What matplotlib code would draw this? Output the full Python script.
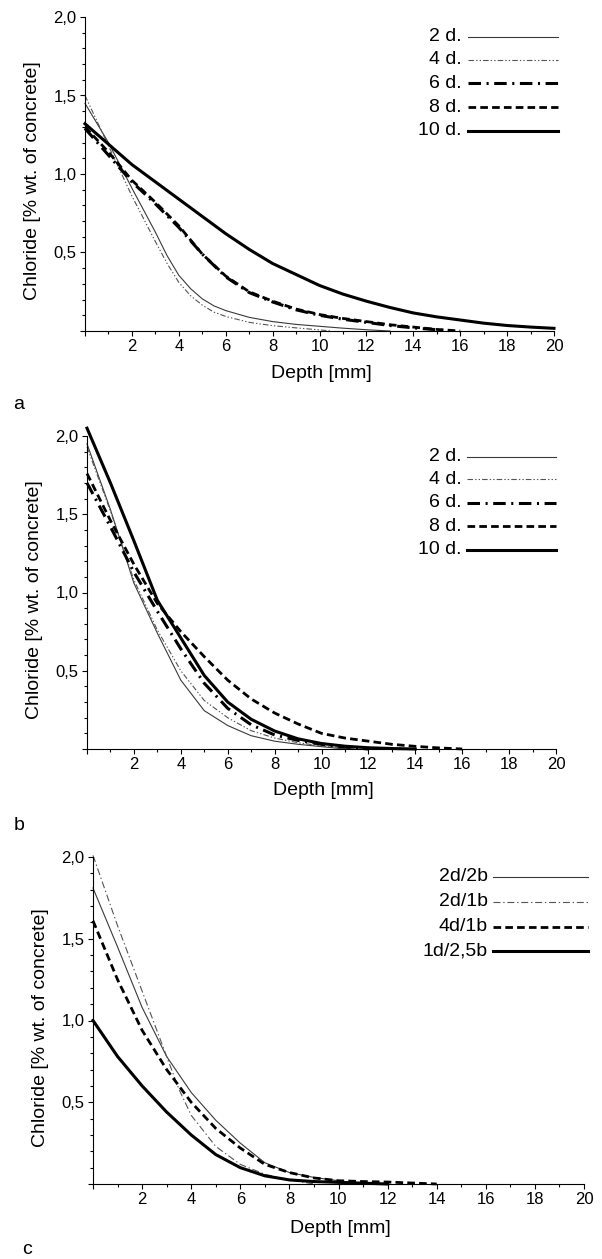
import matplotlib
matplotlib.use('Agg')
import matplotlib.pyplot as plt
from matplotlib.lines import Line2D
from matplotlib.ticker import MultipleLocator, FuncFormatter

plt.rcParams['font.family'] = ['Liberation Sans', 'DejaVu Sans']
plt.rcParams['lines.scale_dashes'] = False

W, H = 602, 1259

# ---- panel a ----
a_2d_x = [0, 1, 2, 3, 3.5, 4, 4.5, 5, 5.5, 6, 7, 8, 9, 10, 11, 12, 13]
a_2d_y = [1.45, 1.20, 0.91, 0.63, 0.48, 0.355, 0.27, 0.205, 0.16, 0.13, 0.087, 0.06, 0.042, 0.03, 0.018, 0.008, 0.0]
a_4d_x = [0, 1, 2, 3, 3.5, 4, 4.5, 5, 5.5, 6, 7, 8, 9, 10, 10.5]
a_4d_y = [1.50, 1.18, 0.86, 0.57, 0.43, 0.31, 0.225, 0.165, 0.12, 0.093, 0.055, 0.034, 0.02, 0.007, 0.0]
a_6d_x = [0, 1, 2, 3, 4, 5, 6, 7, 8, 9, 10, 11, 12, 13, 14, 15, 15.5]
a_6d_y = [1.29, 1.12, 0.95, 0.81, 0.66, 0.49, 0.345, 0.245, 0.185, 0.135, 0.10, 0.075, 0.055, 0.035, 0.02, 0.008, 0.0]
a_8d_x = [0, 1, 2, 3, 4, 5, 6, 7, 8, 9, 10, 11, 12, 13, 14, 15, 16]
a_8d_y = [1.30, 1.14, 0.96, 0.82, 0.67, 0.49, 0.35, 0.25, 0.19, 0.14, 0.105, 0.08, 0.06, 0.04, 0.025, 0.01, 0.0]
a_10d_x = list(range(21))
a_10d_y = [1.32, 1.19, 1.06, 0.95, 0.84, 0.73, 0.62, 0.52, 0.43, 0.36, 0.29, 0.235, 0.19, 0.15,
           0.115, 0.09, 0.07, 0.05, 0.035, 0.025, 0.017]

# ---- panel b ----
b_2d_x = [0, 1, 2, 3, 4, 5, 6, 7, 8, 9, 10, 11]
b_2d_y = [1.95, 1.53, 1.06, 0.74, 0.44, 0.245, 0.15, 0.085, 0.05, 0.03, 0.015, 0.0]
b_4d_x = [0, 1, 2, 3, 4, 5, 6, 7, 8, 9, 10, 11, 11.5]
b_4d_y = [1.93, 1.52, 1.08, 0.76, 0.50, 0.31, 0.20, 0.117, 0.07, 0.04, 0.02, 0.006, 0.0]
b_6d_x = [0, 1, 2, 3, 4, 5, 6, 7, 8, 9, 10, 11, 12]
b_6d_y = [1.70, 1.42, 1.13, 0.88, 0.64, 0.42, 0.26, 0.155, 0.09, 0.055, 0.03, 0.012, 0.0]
b_8d_x = [0, 1, 2, 3, 4, 5, 6, 7, 8, 9, 10, 11, 12, 13, 14, 15, 16]
b_8d_y = [1.76, 1.46, 1.18, 0.93, 0.75, 0.59, 0.44, 0.32, 0.23, 0.16, 0.10, 0.07, 0.05, 0.03, 0.017, 0.007, 0.0]
b_10d_x = [0, 1, 2, 3, 4, 5, 6, 7, 8, 9, 10, 11, 12, 13, 14]
b_10d_y = [2.05, 1.70, 1.33, 0.95, 0.71, 0.47, 0.30, 0.19, 0.115, 0.065, 0.035, 0.018, 0.008, 0.003, 0.0]

# ---- panel c ----
c_22_x = [0, 1, 2, 3, 4, 5, 6, 7, 8, 9, 10, 11]
c_22_y = [1.81, 1.45, 1.08, 0.78, 0.56, 0.39, 0.25, 0.13, 0.07, 0.04, 0.02, 0.0]
c_21_x = [0, 1, 2, 3, 3.5, 4, 5, 6, 7, 8, 9]
c_21_y = [2.01, 1.58, 1.18, 0.78, 0.58, 0.42, 0.23, 0.12, 0.06, 0.025, 0.0]
c_41_x = [0, 1, 2, 3, 4, 5, 6, 7, 8, 9, 10, 11, 12, 13, 14]
c_41_y = [1.61, 1.25, 0.94, 0.70, 0.50, 0.34, 0.22, 0.12, 0.07, 0.037, 0.02, 0.015, 0.012, 0.006, 0.0]
c_125_x = [0, 1, 2, 3, 4, 5, 6, 7, 8, 9, 10, 11, 12]
c_125_y = [1.00, 0.78, 0.60, 0.44, 0.30, 0.18, 0.10, 0.05, 0.025, 0.015, 0.01, 0.005, 0.0]

labels_ab = ['2 d.', '4 d.', '6 d.', '8 d.', '10 d.']
labels_c = ['2d/2b', '2d/1b', '4d/1b', '1d/2,5b']

STYLES = {
    'thin': dict(color='#3a3a3a', linewidth=0.8, linestyle='-'),
    'thin_dd': dict(color='#555555', linewidth=0.8, linestyle=(0, (4, 1.5, 1, 1.5, 1, 1.5))),
    'thin_d': dict(color='#555555', linewidth=0.8, linestyle=(0, (5, 2, 1, 2))),
    'dashdot': dict(color='black', linewidth=2.2, linestyle=(0, (9, 4, 1.5, 4))),
    'dash': dict(color='black', linewidth=2.0, linestyle=(0, (5.5, 3))),
    'solid': dict(color='black', linewidth=2.2, linestyle='-'),
}
styles_ab = ['thin', 'thin_dd', 'dashdot', 'dash', 'solid']
styles_c = ['thin', 'thin_d', 'dash', 'solid']


def px_fig(x, y):
    return x / W, 1 - y / H


def make_axes(fig, left, top, right, bottom):
    ax = fig.add_axes([left / W, 1 - bottom / H, (right - left) / W, (bottom - top) / H])
    ax.set_xlim(0, 20)
    ax.set_ylim(0, 2.0)
    for s in ['top', 'right']:
        ax.spines[s].set_visible(False)
    for s in ['left', 'bottom']:
        ax.spines[s].set_linewidth(0.8)
    ax.xaxis.set_major_locator(MultipleLocator(2))
    ax.xaxis.set_minor_locator(MultipleLocator(1))
    ax.yaxis.set_major_locator(MultipleLocator(0.5))
    ax.yaxis.set_minor_locator(MultipleLocator(0.1))
    ax.xaxis.set_major_formatter(FuncFormatter(lambda v, p: '' if abs(v) < 1e-9 else f'{v:g}'))
    ax.yaxis.set_major_formatter(FuncFormatter(
        lambda v, p: '' if abs(v) < 1e-9 else f'{v:.1f}'.replace('.', ',')))
    ax.tick_params(which='major', length=3.5, width=0.8, direction='out', labelsize=12, pad=2.5)
    ax.tick_params(which='minor', length=2.2, width=0.8, direction='out')
    return ax


def draw_legend(fig, labels, styles, rows, text_right, x0, x1):
    for lab, st, y in zip(labels, styles, rows):
        fx0, fy = px_fig(x0, y)
        fx1, _ = px_fig(x1, y)
        fig.add_artist(Line2D([fx0, fx1], [fy, fy], transform=fig.transFigure, **STYLES[st]))
        fig.text(text_right / W, fy, lab, ha='right', va='center', fontsize=14)


def finish_axes(ax, xl, yl):
    ax.set_xlabel('Depth [mm]', fontsize=14, va='center')
    ax.set_ylabel('Chloride [% wt. of concrete]', fontsize=14, va='center')
    ax.xaxis.set_label_coords(*xl)
    ax.yaxis.set_label_coords(*yl)


fig = plt.figure(figsize=(W / 100, H / 100), dpi=100)

# panel a
ax = make_axes(fig, 85, 17, 554, 331)
series_a = [(a_2d_x, a_2d_y), (a_4d_x, a_4d_y), (a_6d_x, a_6d_y), (a_8d_x, a_8d_y), (a_10d_x, a_10d_y)]
for (xs, ys), st in zip(series_a, styles_ab):
    ax.plot(xs, ys, clip_on=False, **STYLES[st])
finish_axes(ax, (0.503, -0.134), (-0.111, 0.478))
draw_legend(fig, labels_ab, styles_ab, [36.7, 60, 83.3, 107.3, 130.7], 462, 468, 558)
fig.text(19 / W, 1 - 405 / H, 'a', fontsize=14, ha='center', va='center')

# panel b
ax = make_axes(fig, 87, 436, 556, 749)
series_b = [(b_2d_x, b_2d_y), (b_4d_x, b_4d_y), (b_6d_x, b_6d_y), (b_8d_x, b_8d_y), (b_10d_x, b_10d_y)]
for (xs, ys), st in zip(series_b, styles_ab):
    ax.plot(xs, ys, clip_on=False, **STYLES[st])
finish_axes(ax, (0.503, -0.133), (-0.111, 0.476))
draw_legend(fig, labels_ab, styles_ab, [456.7, 479.3, 502.7, 526.3, 550], 462, 467, 556)
fig.text(19 / W, 1 - 825 / H, 'b', fontsize=14, ha='center', va='center')

# panel c
ax = make_axes(fig, 93, 857, 584, 1184)
series_c = [(c_22_x, c_22_y), (c_21_x, c_21_y), (c_41_x, c_41_y), (c_125_x, c_125_y)]
for (xs, ys), st in zip(series_c, styles_c):
    ax.plot(xs, ys, clip_on=False, **STYLES[st])
finish_axes(ax, (0.5045, -0.135), (-0.107, 0.479))
draw_legend(fig, labels_c, styles_c, [876.7, 901.7, 926.7, 951], 488, 493, 588)
fig.text(27 / W, 1 - 1249 / H, 'c', fontsize=14, ha='center', va='center')

fig.savefig('out.png', dpi=100)
